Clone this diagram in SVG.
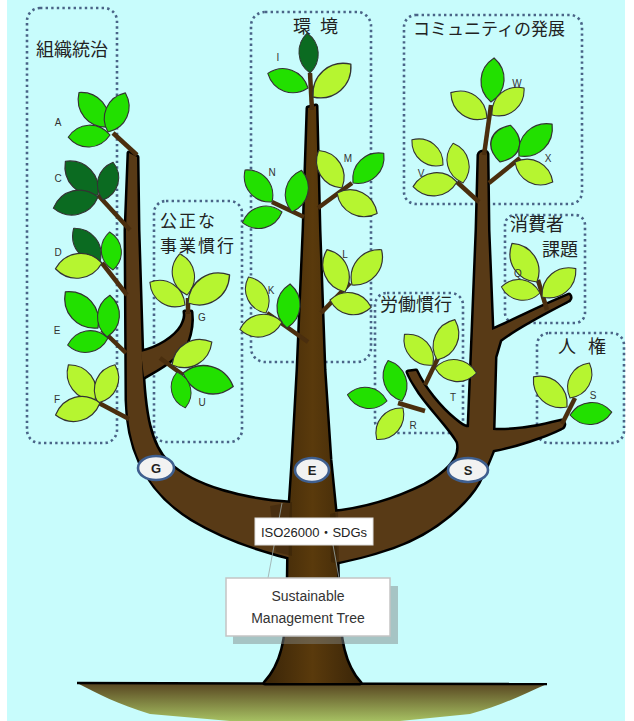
<svg xmlns="http://www.w3.org/2000/svg" xmlns:xlink="http://www.w3.org/1999/xlink" width="634" height="721" viewBox="0 0 634 721">
<style>
.frame{fill:none;stroke:#4a6487;stroke-width:2.6;stroke-dasharray:2.4 3.2}
.ttl{font-family:"Noto Sans CJK JP","Noto Sans CJK SC",sans-serif;font-size:18px;fill:#222}
.lt{font-family:"Liberation Sans",Arial,sans-serif;font-size:10px;fill:#333;text-anchor:middle}
.g{fill:#22e000}
.y{fill:#b6f530}
.d{fill:#0b6b21}
.twig{stroke:#4a2e0e;stroke-width:4.5;fill:none}
.ov{fill:#f2f2f2;stroke:#3f5f8f;stroke-width:2.6}
.ovt{font-family:"Liberation Sans",Arial,sans-serif;font-size:13px;font-weight:bold;fill:#222;text-anchor:middle}
</style>
<defs>
<path id="leaf" d="M0,0 C12,-16 34,-16 46,0 C34,16 12,16 0,0Z" stroke="#333" stroke-width="1.2" stroke-linejoin="round"/>
<linearGradient id="bark" x1="0" y1="0" x2="1" y2="0">
<stop offset="0" stop-color="#3a2508"/><stop offset="0.5" stop-color="#5a3a0c"/><stop offset="1" stop-color="#3a2508"/>
</linearGradient>
<linearGradient id="soil" x1="0" y1="0" x2="0" y2="1">
<stop offset="0" stop-color="#574420"/><stop offset="1" stop-color="#a6c062"/>
</linearGradient>
<path id="tTrunk" d="M265,683 C282,665 287,640 288,600 L289,520 L293,460 L298,370 L304,230 L308,108 L316,106 L319,230 L324,370 L330,460 L336,520 L338,600 C339,640 344,665 360,683 Z"/>
<path id="tLeft" d="M300,503 L290,503 C245,500 195,488 168,463 C150,445 144,415 142,360 L138,230 L137,157 L129,153 L126,230 L127,400 C128,452 148,492 192,519 C222,537 257,550 300,560 Z"/>
<path id="tFair" d="M141,352 C158,348 175,338 182,326 C185,320 186,316 185,312 L191,312 C192,320 191,332 187,342 C178,358 160,368 144,377 Z"/>
<path id="tRight" d="M322,513 C360,511 395,500 425,485 C448,472 462,458 458,442 C450,428 432,410 420,393 C414,384 410,378 408,372 L416,371 C424,388 440,408 455,420 C462,426 466,428 469,427 L473,330 L477,230 L479,155 C480,151 486,151 487,154 L488,230 L492,330 C505,325 530,312 553,302 L569,295 C571,297 570,300 567,301 C550,310 520,325 500,340 L495,357 L493,430 C510,431 535,428 553,423 L562,421 C565,423 564,427 561,428 C545,436 515,446 493,450 C490,458 485,470 478,483 C468,500 440,530 393,547 C370,555 350,560 322,565 Z"/>
</defs>

<g id="background">
<rect x="0" y="0" width="634" height="721" fill="#ffffff"/>
<rect x="7" y="0" width="618" height="721" fill="#c8fcfc"/>
</g>

<g id="frames">
<g id="frame-governance"><rect class="frame" x="27" y="8" width="90" height="435" rx="13"/><text class="ttl" x="36" y="56">組織統治</text></g>
<g id="frame-fair"><rect class="frame" x="154" y="201" width="88" height="241" rx="12"/><text class="ttl" style="font-size:17px" letter-spacing="2"><tspan x="160" y="226.5">公正な</tspan><tspan x="160" y="251.5">事業慣行</tspan></text></g>
<g id="frame-environment"><rect class="frame" x="251" y="12" width="120" height="350" rx="14"/><text class="ttl" x="293" y="33" word-spacing="5">環 境</text></g>
<g id="frame-community"><rect class="frame" x="404" y="15" width="178" height="189" rx="12"/><text class="ttl" x="413" y="35" style="font-size:17px">コミュニティの発展</text></g>
<g id="frame-consumer"><rect class="frame" x="505" y="215" width="80" height="108" rx="10"/><text class="ttl"><tspan x="510" y="231">消費者</tspan><tspan x="542" y="256">課題</tspan></text></g>
<g id="frame-labour"><rect class="frame" x="375" y="293" width="88" height="140" rx="12"/><text class="ttl" x="380" y="311">労働慣行</text></g>
<g id="frame-rights"><rect class="frame" x="537" y="333" width="87" height="110" rx="12"/><text class="ttl" x="558" y="353" word-spacing="8">人 権</text></g>
</g>

<g id="ground">
<path d="M77,683 L547,684 C520,696 500,706 470,714 L400,721 L230,721 L150,714 C118,704 98,694 77,683 Z" fill="url(#soil)"/>
<line x1="77" y1="683" x2="547" y2="684" stroke="#000" stroke-width="2.5"/>
</g>

<g id="tree">
<g fill="#000" stroke="#000" stroke-width="5" stroke-linejoin="round">
<use href="#tLeft"/><use href="#tFair"/><use href="#tRight"/><use href="#tTrunk"/>
</g>
<use href="#tLeft" fill="#583a16"/>
<use href="#tFair" fill="#583a16"/>
<use href="#tRight" fill="#583a16"/>
<use href="#tTrunk" fill="url(#bark)"/>
<path d="M270,506 L292,502 L292,556 L276,552 Z" fill="#2a1a06" opacity="0.35"/>
<path d="M330,514 L338,512 L339,564 L331,562 Z" fill="#2a1a06" opacity="0.35"/>
</g>

<g id="connectors">
<line class="twig" x1="137" y1="155" x2="113" y2="133"/>
<line class="twig" x1="130" y1="230" x2="98" y2="195"/>
<line class="twig" x1="127" y1="295" x2="102" y2="263"/>
<line class="twig" x1="126" y1="353" x2="102" y2="330"/>
<line class="twig" x1="129" y1="419" x2="97" y2="402"/>
<line class="twig" x1="188" y1="314" x2="188" y2="298"/>
<line class="twig" x1="160" y1="358" x2="183" y2="375"/>
<line class="twig" x1="312" y1="110" x2="310" y2="73"/>
<line class="twig" x1="304" y1="217" x2="272" y2="202"/>
<line class="twig" x1="318" y1="208" x2="352" y2="183"/>
<line class="twig" x1="308" y1="342" x2="267" y2="313"/>
<line class="twig" x1="321" y1="313" x2="350" y2="283"/>
<line class="twig" x1="484" y1="155" x2="491" y2="105"/>
<line class="twig" x1="479" y1="202" x2="457" y2="182"/>
<line class="twig" x1="489" y1="183" x2="520" y2="158"/>
<line class="twig" x1="547" y1="310" x2="538" y2="280"/>
<line class="twig" x1="425" y1="385" x2="438" y2="358"/>
<line class="twig" x1="425" y1="411" x2="398" y2="403"/>
<line class="twig" x1="562" y1="424" x2="575" y2="398"/>
<line x1="282" y1="503" x2="268" y2="578" stroke="#9aa8a8" stroke-width="0.8"/>
<line x1="333" y1="545" x2="339" y2="578" stroke="#9aa8a8" stroke-width="0.8"/>
</g>

<g id="leaves">
<g id="leaf-A">
<use href="#leaf" class="g" transform="translate(108 127) rotate(-130) scale(.98)"/>
<use href="#leaf" class="g" transform="translate(108 132) rotate(-66) scale(.93)"/>
<use href="#leaf" class="g" transform="translate(110 135) rotate(177) scale(.91)"/>
<text class="lt" x="58" y="126">A</text>
</g>
<g id="leaf-C">
<use href="#leaf" class="d" transform="translate(98 195) rotate(-134) scale(1.02)"/>
<use href="#leaf" class="d" transform="translate(103 200) rotate(-75) scale(.85)"/>
<use href="#leaf" class="d" transform="translate(98 197) rotate(166) scale(1)"/>
<text class="lt" x="58" y="182">C</text>
</g>
<g id="leaf-D">
<use href="#leaf" class="d" transform="translate(100 262) rotate(-128) scale(.93)"/>
<use href="#leaf" class="g" transform="translate(113 270) rotate(-95) scale(.83)"/>
<use href="#leaf" class="y" transform="translate(102 263) rotate(173) scale(1.02)"/>
<text class="lt" x="58" y="256">D</text>
</g>
<g id="leaf-E">
<use href="#leaf" class="g" transform="translate(98 328) rotate(-132) scale(1.06)"/>
<use href="#leaf" class="g" transform="translate(107 337) rotate(-86) scale(.91)"/>
<use href="#leaf" class="g" transform="translate(108 338) rotate(170) scale(.89)"/>
<text class="lt" x="57" y="334">E</text>
</g>
<g id="leaf-F">
<use href="#leaf" class="y" transform="translate(95 400) rotate(-127) scale(.96)"/>
<use href="#leaf" class="y" transform="translate(98 403) rotate(-66) scale(.91)"/>
<use href="#leaf" class="y" transform="translate(100 403) rotate(165) scale(1)"/>
<text class="lt" x="57" y="403">F</text>
</g>
<g id="leaf-G">
<use href="#leaf" class="y" transform="translate(187 295) rotate(-100) scale(.91)"/>
<use href="#leaf" class="y" transform="translate(185 305) rotate(-147) scale(.91)"/>
<use href="#leaf" class="y" transform="translate(188 303) rotate(-34) scale(1.09)"/>
<text class="lt" x="202" y="321">G</text>
</g>
<g id="leaf-U">
<use href="#leaf" class="y" transform="translate(172 365) rotate(-30) scale(1)"/>
<use href="#leaf" class="g" transform="translate(183 373) rotate(15) scale(1.13)"/>
<use href="#leaf" class="g" transform="translate(177 372) rotate(77) scale(.8)"/>
<text class="lt" x="202" y="406">U</text>
</g>
<g id="leaf-I">
<use href="#leaf" class="d" transform="translate(310 73) rotate(-94) scale(.87 .8)"/>
<use href="#leaf" class="g" transform="translate(308 88) rotate(-160) scale(.93)"/>
<use href="#leaf" class="y" transform="translate(313 97) rotate(-41) scale(1.09)"/>
<text class="lt" x="278" y="61">I</text>
</g>
<g id="leaf-N">
<use href="#leaf" class="g" transform="translate(272 202) rotate(-130) scale(.91)"/>
<use href="#leaf" class="g" transform="translate(292 212) rotate(-77) scale(.93)"/>
<use href="#leaf" class="g" transform="translate(282 212) rotate(165) scale(.89)"/>
<text class="lt" x="272" y="176">N</text>
</g>
<g id="leaf-M">
<use href="#leaf" class="y" transform="translate(342 188) rotate(-122) scale(.96)"/>
<use href="#leaf" class="g" transform="translate(353 183) rotate(-44) scale(.93)"/>
<use href="#leaf" class="y" transform="translate(337 193) rotate(27) scale(.98)"/>
<text class="lt" x="348" y="162">M</text>
</g>
<g id="leaf-K">
<use href="#leaf" class="y" transform="translate(266 313) rotate(-116) scale(.87)"/>
<use href="#leaf" class="g" transform="translate(287 328) rotate(-86) scale(.96)"/>
<use href="#leaf" class="y" transform="translate(282 322) rotate(170) scale(.93)"/>
<text class="lt" x="271" y="294">K</text>
</g>
<g id="leaf-L">
<use href="#leaf" class="y" transform="translate(345 292) rotate(-113) scale(1)"/>
<use href="#leaf" class="y" transform="translate(352 285) rotate(-50) scale(1)"/>
<use href="#leaf" class="y" transform="translate(330 300) rotate(10) scale(.91)"/>
<text class="lt" x="345" y="258">L</text>
</g>
<g id="leaf-W">
<use href="#leaf" class="g" transform="translate(491 102) rotate(-86) scale(.96)"/>
<use href="#leaf" class="y" transform="translate(487 118) rotate(-145) scale(.96)"/>
<use href="#leaf" class="y" transform="translate(492 115) rotate(-40) scale(.91)"/>
<text class="lt" x="517" y="87">W</text>
</g>
<g id="leaf-V">
<use href="#leaf" class="y" transform="translate(443 165) rotate(-141) scale(.87)"/>
<use href="#leaf" class="y" transform="translate(463 183) rotate(-104) scale(.89)"/>
<use href="#leaf" class="y" transform="translate(457 182) rotate(174) scale(.96)"/>
<text class="lt" x="421" y="177">V</text>
</g>
<g id="leaf-X">
<use href="#leaf" class="g" transform="translate(500 162) rotate(-74) scale(.83 1.2)"/>
<use href="#leaf" class="g" transform="translate(519 156) rotate(-44) scale(1)"/>
<use href="#leaf" class="y" transform="translate(515 162) rotate(28) scale(.93)"/>
<text class="lt" x="548" y="162">X</text>
</g>
<g id="leaf-Q">
<use href="#leaf" class="y" transform="translate(537 282) rotate(-123) scale(1)"/>
<use href="#leaf" class="y" transform="translate(542 297) rotate(-40) scale(.96)"/>
<use href="#leaf" class="y" transform="translate(540 293) rotate(-171) scale(.85)"/>
<text class="lt" x="518" y="277">Q</text>
</g>
<g id="leaf-T">
<use href="#leaf" class="y" transform="translate(433 365) rotate(-133) scale(.91)"/>
<use href="#leaf" class="y" transform="translate(437 360) rotate(-66) scale(.96)"/>
<use href="#leaf" class="y" transform="translate(435 368) rotate(7) scale(.91)"/>
<text class="lt" x="453" y="401">T</text>
</g>
<g id="leaf-R">
<use href="#leaf" class="g" transform="translate(402 401) rotate(-109) scale(.93)"/>
<use href="#leaf" class="g" transform="translate(387 401) rotate(-171) scale(.87)"/>
<use href="#leaf" class="y" transform="translate(403 408) rotate(130) scale(.89)"/>
<text class="lt" x="413" y="429">R</text>
</g>
<g id="leaf-S">
<use href="#leaf" class="y" transform="translate(567 407) rotate(-138) scale(.98)"/>
<use href="#leaf" class="y" transform="translate(570 398) rotate(-61) scale(.87)"/>
<use href="#leaf" class="g" transform="translate(570 415) rotate(-4) scale(.91)"/>
<text class="lt" x="593" y="399">S</text>
</g>
</g>

<g id="pillar-G"><ellipse class="ov" cx="156" cy="468" rx="18" ry="12"/><text class="ovt" x="156" y="473">G</text></g>
<g id="pillar-E"><ellipse class="ov" cx="312" cy="470" rx="17" ry="12"/><text class="ovt" x="312" y="475">E</text></g>
<g id="pillar-S"><ellipse class="ov" cx="468" cy="470" rx="20" ry="12"/><text class="ovt" x="468" y="475">S</text></g>

<g id="label-iso">
<rect x="255" y="518" width="118" height="27" fill="#ffffff" stroke="#dddddd" stroke-width="1"/>
<text x="314" y="536.5" text-anchor="middle" font-family="'Liberation Sans','Noto Sans CJK JP',sans-serif" font-size="13" fill="#222">ISO26000・SDGs</text>
</g>

<g id="label-tree">
<rect x="233" y="586" width="165" height="58" fill="#808585" opacity="0.47"/>
<rect x="226" y="578" width="164" height="58" fill="#ffffff" stroke="#c4c4c4" stroke-width="1.5"/>
<text x="308" y="601" text-anchor="middle" font-family="'Liberation Sans',Arial,sans-serif" font-size="14" fill="#333">Sustainable</text>
<text x="308" y="623" text-anchor="middle" font-family="'Liberation Sans',Arial,sans-serif" font-size="14" fill="#333">Management Tree</text>
</g>
</svg>
